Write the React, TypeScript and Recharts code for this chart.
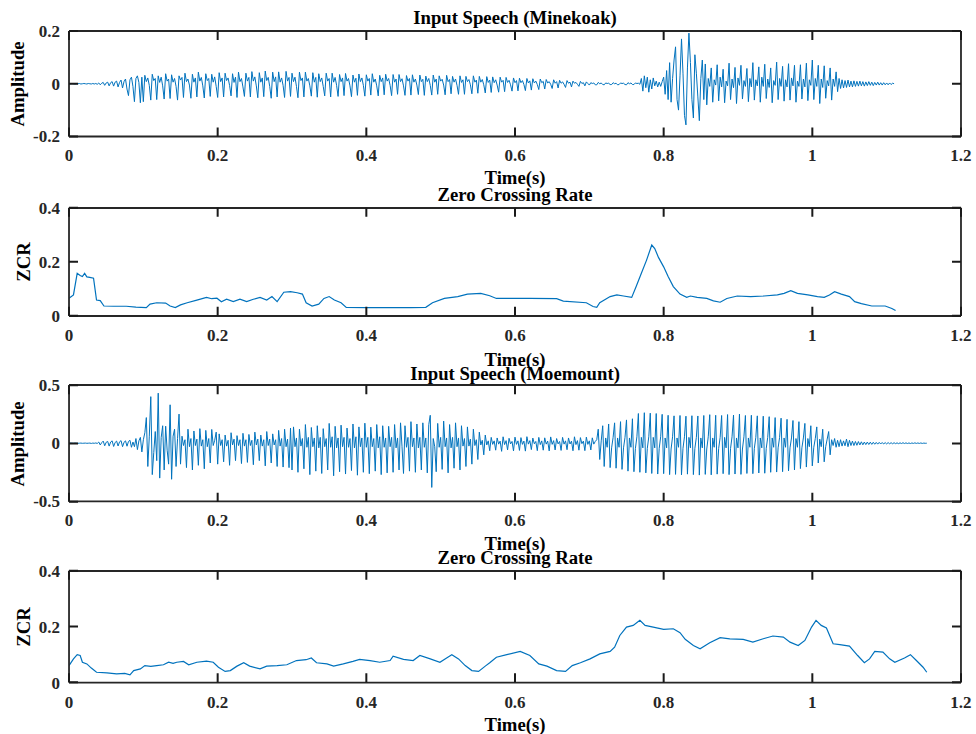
import React from 'react'
import { LineChart, Line, XAxis, YAxis } from 'recharts'

// sample step of the amplitude arrays (s)
const DT = 0.002

const X_TICKS = [0, 0.2, 0.4, 0.6, 0.8, 1, 1.2]
const AMP1_TICKS = [-0.2, 0, 0.2]
const AMP2_TICKS = [-0.5, 0, 0.5]
const ZCR_TICKS = [0, 0.2, 0.4]

// amplitude of "Minekoak", thousandths, one value every DT
const minekoakWave = [
  0, 0, 1, 0, -1, 0, 0, 1, -1, 0, 1, 0, -1, 1, 0, -1, 1, -1, 1, -2,
  3, -4, 2, 5, -6, 3, 6, -8, 4, 8, -9, 6, 10, -12, 5, 14, -16, 8, 18, -20,
  -45, 15, 25, -10, -68, 20, 30, 5, -72, 25,
  -68, 32, 8, 22, -6, -62, 36, 12, 20,
  -60, 30, 5, 25, -8, -58, 38, 10, 18,
  -56, 34, 6, 20, -10, -62, 30, 14, 24,
  -52, 40, 8, 18, -5, -55, 36, 6, 22,
  -50, 44, 10, 24, -8, -54, 38, 12, 20,
  -48, 36, 6, 26, -10, -52, 42, 8, 22,
  -50, 40, 12, 22, -6, -46, 38, 5, 25,
  -52, 44, 8, 20, -12, -48, 40, 10, 24,
  -50, 46, 10, 26, -8, -53, 42, 6, 22,
  -49, 48, 12, 24, -10, -55, 44, 8, 26,
  -50, 45, 6, 22, -6, -52, 47, 10, 24,
  -48, 40, 8, 25, -10, -53, 44, 12, 22,
  -50, 44, 10, 20, -8, -47, 42, 6, 24,
  -51, 38, 8, 22, -10, -46, 40, 10, 20,
  -50, 40, 6, 24, -6, -48, 35, 8, 22,
  -45, 39, 10, 20, -8, -49, 33, 6, 21,
  -44, 37, 8, 22, -6, -47, 34, 10, 20,
  -43, 38, 6, 18, -8, -46, 32, 8, 22,
  -42, 36, 10, 20, -6, -45, 35, 6, 18,
  -40, 35, 8, 19, -8, -44, 31, 10, 20,
  -43, 34, 6, 18, -5, -41, 33, 8, 17,
  -44, 29, 8, 20, -6, -43, 33, 6, 18,
  -40, 30, 10, 17, -5, -42, 32, 8, 16,
  -38, 28, 6, 18, -6, -40, 30, 5, 15,
  -40, 28, 8, 16, -4, -38, 30, 6, 14,
  -36, 28, 6, 16, -4, -35, 27, 5, 14,
  -33, 26, 4, 15, -5, -32, 25, 6, 13,
  -30, 24, 5, 13, -4, -28, 22, 4, 12,
  -27, 21, 4, 12, -3, -26, 20, 3, 11,
  -24, 19, 3, 10, -3, -22, 18, 4, 9,
  -20, 16, 3, 8, -2, -18, 15, 2, 8,
  -16, 13, 2, 7, -2, -14, 12, 2, 6,
  -12, 10, 2, 5, -2, -10, 9, 1, 4,
  -8, 7, 1,
  -5, 4, 1, 3, -4, -4, 5, 0, 3, -3, -4, 3, 1, 2, -3, -3, 4, 0, 2, -4,
  -3, 3, 1, 2, -3, -4, 4, 0, 3, -3, -3, 3, 1, 2, -2,
  20, -28, 30, -15, 25, -32, 15, -20, 22,
  -8, 10, -12, 6, -10, 8,
  25, -40, 50, -60, 80, -70, 20, 90, 140, -60, -100, 30, 170, 40,
  -120, -156, 60, 192, 80, -60, -130, 110, 40, -50, -140, 20, 90, -60,
  75, -80, 20, -10, 60, -70, 15, -5,
  72, -65, 25, -12, 55, -72, 10, -8,
  78, -60, 18, -15, 62, -75, 22, -6,
  70, -58, 12, -10, 58, -68, 20, -12,
  80, -62, 15, -8, 64, -70, 25, -10,
  74, -56, 18, -14, 60, -72, 12, -6,
  82, -60, 20, -10, 66, -66, 15, -12,
  76, -62, 22, -8, 70, -70, 10, -10,
  72, -58, 18, -12, 78, -64, 15, -6,
  90, -60, 20, -10, 70, -75, 18, -14,
  68, -55, 12, -8, 60, -62, 18, -10, 45,
  -30, 20, -18, 15, -16, 12, -14, 14, -12, 10, -12, 11, -10, 9, -9, 10, -8, 8, -9, 7,
  -7, 8, -6, 6, -7, 5, -5, 6, -5, 4, -5, 4, -4, 3, -4, 3, -3, 2, 0,
]

// amplitude of "Moemount", thousandths, one value every DT
const moemountWave = [
  0, 1, 0, -1, 1, 0, -1, 0, 1, -1, 0, 1, -1, 0, 1, -2, 1, -1, 2, -2,
  10, -15, 5, 18, -22, 8, 15, -25, 10, 20, -28, 6, 18, -24, 12, 22, -30, 8, 20, -26, 15, 25, -35, 10, -30,
  40, -55, 20, 50, -75,
  30, 90, 220, -200, 60, 400, -270, -80, 100, -150, 430, -300, 50, 150, -230, 146, -60, -180, 330, -310,
  60, 120, -200, 40, 250,
  -180, 60, -20, 30, -210, 120, -30, 40, -230, 105, -20, 35, -190, 125, -25, 30, -220, 110, -30, 40,
  -170, 118, -20, 25, 95,
  -180, 80, -20, 30, -160, 70, -25, 25, -190, 90, -15, 35, -150, 65, -20, 30, -175, 85, -25, 30,
  -165, 75, -20, 25, -185, 95, -15, 35, -150, 70, -25, 30, -195, 100, -20, 35, -170, 80, -15, 30,
  -200, 110, -25, 40, -205, 120, -30, 35, -210, 130,
  -230, 140, -30, 45, -250, 120, -25, 40, -220, 160, -35, 50, -270, 135, -30, 45, -240, 150, -40, 50,
  -260, 125, -30, 40, -230, 170, -35, 55, -280, 145, -40, 45, -245, 155, -30, 50, -265, 130, -35, 40,
  -235, 165, -40, 55, -275, 140, -30, 45, -250, 172, -35, 50, -262, 138, -30, 40, -240, 160, -40, 55,
  -270, 150, -35, 45, -255, 145, -30, 50, -250, 160, -40, 45, -230, 175, -30,
  -260, 150, -35, 50, -240, 185, -30, 45, -250, 165, -40, 50, -230, 175, -35, 45, -255, 160,
  240, -380,
  40, -30, -245, 170, -35, 50, -225, 190, -30, 45, -255, 160, -40, 50, -215, 175, -30, 45,
  -230, 150, -25, 40, -200, 140, -25, 35, -180, 120, -20, 30, -140, 95, -15, 25, -100, 70, -15, 20,
  -65, 50, -10, 20, -60, 45, -8, 18, -70, 55, -12, 22, -58, 42, -6, 15, -66, 52, -10, 20,
  -62, 48, -10, 18, -68, 56, -8, 22, -55, 44, -5, 15, -64, 50, -12, 20, -60, 46, -8, 18,
  -66, 54, -10, 22, -58, 40, -6, 15, -62, 50, -8, 20, -56, 45, -7, 18, -65, 55, -12, 22,
  -60, 48, -4, 18, -64, 52, -10, 20, -58, 46, -8, 15, 30,
  120, -140, 20,
  150, -200, 45, -35, 165, -210, -40, 50, 175, -215, 45, -35, 185, -225, -40, 50,
  200, -240, 45, -35, 210, -245, -45, 55, 255, -250, 50, -40, 262, -255, -45, 55,
  258, -260, 50, -40, 255, -265, -45, 55, 248, -262, 45, -40, 240, -270, -50, 55,
  235, -268, 45, -35, 238, -272, -45, 55, 232, -266, 50, -40, 236, -270, -45, 50,
  234, -274, 45, -40, 238, -268, -50, 55, 245, -272, 45, -35, 240, -266, -45, 50,
  238, -262, 50, -40, 246, -270, -45, 55, 242, -265, 45, -40, 250, -268, -50, 55,
  238, -260, 45, -35, 240, -262, -45, 50, 235, -256, 45, -40, 232, -258, -45, 50,
  228, -250, 45, -35, 220, -248, -40, 50, 215, -245, 45, -35, 205, -238, -40, 45,
  195, -230, 40, -35, 185, -218, -40, 45, 170, -205, 40, -30, 150, -195, -35, 40,
  140, -170, 35, -30, 120, -160, -30, 35,
  100, -100, 30, -20, 40, -35, 25, -30, 30, -25, 20, -22, 35, -30, 25, -20,
  18, -20, 15, -18, 14, -15, 12, -14, 10, -12, 10, -11, 9, -10, 8, -9,
  7, -8, 7, -7, 6, -7, 5, -6, 5, -5, 4, -5, 4, -4, 3, -4,
  3, -3, 4, -3, 3, -3, 2, -3, 2, -2, 3, -2, 2, -2, 2, -2, 1, -1, 0,
]

// [time (s), zcr]
const minekoakZcr: [number, number][] = [
  [0, 0.066], [0.006, 0.078], [0.011, 0.158], [0.015, 0.15], [0.018, 0.146], [0.021, 0.158],
  [0.024, 0.145], [0.028, 0.143], [0.033, 0.14], [0.037, 0.059], [0.042, 0.057], [0.047, 0.037],
  [0.06, 0.036], [0.077, 0.036], [0.09, 0.033], [0.104, 0.031], [0.109, 0.044], [0.118, 0.049],
  [0.13, 0.048], [0.136, 0.037], [0.143, 0.031], [0.15, 0.041], [0.159, 0.049], [0.172, 0.059],
  [0.185, 0.069], [0.192, 0.064], [0.199, 0.066], [0.205, 0.053], [0.212, 0.062], [0.221, 0.053],
  [0.23, 0.062], [0.239, 0.053], [0.248, 0.062], [0.257, 0.069], [0.266, 0.059], [0.273, 0.072],
  [0.28, 0.053], [0.289, 0.088], [0.298, 0.09], [0.307, 0.086], [0.314, 0.081], [0.319, 0.049],
  [0.327, 0.037], [0.336, 0.044], [0.343, 0.065], [0.35, 0.072], [0.357, 0.059], [0.366, 0.049],
  [0.373, 0.032], [0.4, 0.031], [0.43, 0.031], [0.46, 0.031], [0.48, 0.032], [0.489, 0.049],
  [0.505, 0.065], [0.523, 0.072], [0.536, 0.081], [0.554, 0.084], [0.566, 0.075], [0.575, 0.065],
  [0.62, 0.065], [0.656, 0.064], [0.665, 0.055], [0.696, 0.049], [0.705, 0.035], [0.71, 0.032],
  [0.714, 0.049], [0.728, 0.072], [0.737, 0.078], [0.746, 0.074], [0.757, 0.069], [0.763, 0.109],
  [0.77, 0.158], [0.777, 0.207], [0.784, 0.263], [0.788, 0.25], [0.793, 0.217], [0.8, 0.182],
  [0.806, 0.146], [0.813, 0.109], [0.822, 0.081], [0.831, 0.069], [0.836, 0.074], [0.845, 0.069],
  [0.858, 0.065], [0.867, 0.056], [0.876, 0.051], [0.885, 0.065], [0.899, 0.074], [0.917, 0.072],
  [0.935, 0.074], [0.953, 0.078], [0.962, 0.084], [0.971, 0.094], [0.98, 0.084], [0.994, 0.078],
  [1.007, 0.072], [1.016, 0.069], [1.023, 0.078], [1.03, 0.09], [1.039, 0.081], [1.05, 0.072],
  [1.057, 0.053], [1.066, 0.046], [1.08, 0.037], [1.098, 0.037], [1.107, 0.028], [1.112, 0.02],
]

const moemountZcr: [number, number][] = [
  [0, 0.061], [0.006, 0.085], [0.011, 0.1], [0.015, 0.097], [0.018, 0.073], [0.024, 0.067],
  [0.03, 0.052], [0.037, 0.037], [0.051, 0.035], [0.064, 0.031], [0.075, 0.033], [0.082, 0.028],
  [0.087, 0.043], [0.096, 0.049], [0.102, 0.061], [0.11, 0.058], [0.118, 0.061], [0.127, 0.064],
  [0.134, 0.073], [0.14, 0.069], [0.145, 0.073], [0.154, 0.076], [0.161, 0.064], [0.172, 0.073],
  [0.185, 0.077], [0.194, 0.073], [0.201, 0.055], [0.21, 0.04], [0.217, 0.043], [0.226, 0.059],
  [0.235, 0.071], [0.243, 0.059], [0.257, 0.049], [0.266, 0.059], [0.28, 0.061], [0.293, 0.064],
  [0.306, 0.079], [0.319, 0.082], [0.326, 0.088], [0.333, 0.071], [0.347, 0.067], [0.356, 0.059],
  [0.369, 0.067], [0.382, 0.076], [0.391, 0.083], [0.405, 0.079], [0.418, 0.073], [0.432, 0.079],
  [0.436, 0.095], [0.45, 0.083], [0.463, 0.079], [0.472, 0.097], [0.486, 0.085], [0.499, 0.073],
  [0.508, 0.088], [0.515, 0.1], [0.524, 0.085], [0.533, 0.061], [0.542, 0.043], [0.551, 0.04],
  [0.56, 0.059], [0.566, 0.071], [0.575, 0.091], [0.589, 0.1], [0.607, 0.112], [0.62, 0.097],
  [0.632, 0.067], [0.643, 0.059], [0.656, 0.043], [0.668, 0.04], [0.677, 0.061], [0.688, 0.071],
  [0.701, 0.085], [0.714, 0.103], [0.728, 0.112], [0.734, 0.127], [0.741, 0.169], [0.75, 0.199],
  [0.759, 0.205], [0.768, 0.223], [0.775, 0.205], [0.786, 0.199], [0.8, 0.191], [0.813, 0.193],
  [0.822, 0.179], [0.829, 0.155], [0.84, 0.133], [0.849, 0.121], [0.862, 0.143], [0.876, 0.161],
  [0.889, 0.157], [0.907, 0.155], [0.92, 0.145], [0.934, 0.157], [0.947, 0.167], [0.961, 0.163],
  [0.97, 0.145], [0.981, 0.133], [0.99, 0.151], [0.999, 0.199], [1.005, 0.223], [1.012, 0.205],
  [1.019, 0.196], [1.028, 0.139], [1.037, 0.136], [1.05, 0.131], [1.061, 0.097], [1.07, 0.071],
  [1.077, 0.085], [1.084, 0.112], [1.095, 0.109], [1.104, 0.085], [1.111, 0.073], [1.124, 0.088],
  [1.132, 0.1], [1.14, 0.079], [1.149, 0.055], [1.154, 0.037],
]

const BLUE = '#0072BD'
const INK = '#262626'
const FONT = '"Liberation Serif", "Times New Roman", serif'
const AXIS = { stroke: INK, strokeWidth: 1.8 }
const TICK_TEXT = { fontFamily: FONT, fontWeight: 700, fontSize: 17, fill: INK }
const TICK_LEN = 9
const PAD_T = 20
const PAD_B = 40
const LEFT = 69
const RIGHT = 15
const PLOT_W = 976 - LEFT - RIGHT
const X_MAX = 1.2
const THIN = 0.01 // axis band: a 0 size is not drawn at all

const fromWave = (milli: number[]) => milli.map((m, i) => ({ t: +(i * DT).toFixed(4), v: m / 1000 }))
const fromPairs = (pairs: [number, number][]) => pairs.map(([t, v]) => ({ t, v }))

type Box = { top: number; height: number; yDomain: [number, number]; yTicks: number[] }

const BOXES: Box[] = [
  { top: 31, height: 105.5, yDomain: [-0.2, 0.2], yTicks: AMP1_TICKS },
  { top: 207.7, height: 108, yDomain: [0, 0.4], yTicks: ZCR_TICKS },
  { top: 385.3, height: 116.4, yDomain: [-0.5, 0.5], yTicks: AMP2_TICKS },
  { top: 570.7, height: 111.6, yDomain: [0, 0.4], yTicks: ZCR_TICKS },
]

function XTick({ x, y, payload }: any) {
  return <text x={x} y={y + 25} textAnchor="middle" {...TICK_TEXT}>{String(payload.value)}</text>
}

function YTick({ x, y, payload }: any) {
  return <text x={x - 9} y={y + 6} textAnchor="end" {...TICK_TEXT}>{String(payload.value)}</text>
}

// MATLAB-style inward tick marks on all four sides of a box, as one path
function tickPath({ top, height, yDomain, yTicks }: Box) {
  const [y0, y1] = yDomain
  const sx = (t: number) => LEFT + (t / X_MAX) * PLOT_W
  const sy = (v: number) => top + ((y1 - v) / (y1 - y0)) * height
  const bottom = top + height
  const right = LEFT + PLOT_W
  const parts: string[] = []
  X_TICKS.forEach((t) => {
    parts.push(`M${sx(t)} ${bottom}V${bottom - TICK_LEN}`)
    parts.push(`M${sx(t)} ${top}V${top + TICK_LEN}`)
  })
  yTicks.forEach((v) => {
    parts.push(`M${LEFT} ${sy(v)}H${LEFT + TICK_LEN}`)
    parts.push(`M${right} ${sy(v)}H${right - TICK_LEN}`)
  })
  return parts.join('')
}

function Panel({ data, box, width = 1 }: { data: { t: number; v: number }[]; box: Box; width?: number }) {
  const { top, height, yDomain, yTicks } = box
  return (
    <div style={{ position: 'absolute', left: 0, top: top - PAD_T }}>
      <LineChart
        width={976}
        height={height + PAD_T + PAD_B}
        data={data}
        margin={{ top: PAD_T, right: RIGHT, bottom: PAD_B, left: LEFT }}
      >
        <XAxis
          xAxisId="b" dataKey="t" type="number" domain={[0, X_MAX]} ticks={X_TICKS} interval={0} allowDataOverflow
          height={THIN} tickSize={0} tickMargin={0} axisLine={AXIS} tickLine={false} tick={XTick}
        />
        <XAxis
          xAxisId="t" orientation="top" type="number" domain={[0, X_MAX]} height={THIN} allowDataOverflow
          axisLine={AXIS} tickLine={false} tick={false}
        />
        <YAxis
          yAxisId="l" type="number" domain={yDomain} ticks={yTicks} interval={0} allowDataOverflow
          width={THIN} tickSize={0} tickMargin={0} axisLine={AXIS} tickLine={false} tick={YTick}
        />
        <YAxis
          yAxisId="r" orientation="right" type="number" domain={yDomain} width={THIN} allowDataOverflow
          axisLine={AXIS} tickLine={false} tick={false}
        />
        <Line
          xAxisId="b" yAxisId="l" dataKey="v" type="linear" stroke={BLUE} strokeWidth={width}
          dot={false} activeDot={false} isAnimationActive={false}
        />
      </LineChart>
    </div>
  )
}

const TITLE = { fontFamily: FONT, fontWeight: 700, fontSize: 18.7, fill: '#000' }

export default function App() {
  return (
    <div style={{ position: 'absolute', left: 0, top: 0, width: 976, height: 734, background: '#fff' }}>
      <Panel data={fromWave(minekoakWave)} box={BOXES[0]} />
      <Panel data={fromPairs(minekoakZcr)} box={BOXES[1]} width={1.2} />
      <Panel data={fromWave(moemountWave)} box={BOXES[2]} />
      <Panel data={fromPairs(moemountZcr)} box={BOXES[3]} width={1.2} />
      <svg width={976} height={734} style={{ position: 'absolute', left: 0, top: 0, pointerEvents: 'none' }}>
        {BOXES.map((b, i) => (
          <path key={i} d={tickPath(b)} fill="none" stroke="#1a1a1a" strokeWidth={2} />
        ))}
        <g textAnchor="middle" {...TITLE}>
          <text x={515} y={24}>Input Speech (Minekoak)</text>
          <text x={515} y={184}>Time(s)</text>
          <text x={515} y={200.5}>Zero Crossing Rate</text>
          <text x={515} y={365.5}>Time(s)</text>
          <text x={515} y={380}>Input Speech (Moemount)</text>
          <text x={515} y={549.5}>Time(s)</text>
          <text x={515} y={563.5}>Zero Crossing Rate</text>
          <text x={515} y={731}>Time(s)</text>
          <text transform="translate(24 84) rotate(-90)">Amplitude</text>
          <text transform="translate(30 262) rotate(-90)">ZCR</text>
          <text transform="translate(24 444) rotate(-90)">Amplitude</text>
          <text transform="translate(30 627) rotate(-90)">ZCR</text>
        </g>
      </svg>
    </div>
  )
}
